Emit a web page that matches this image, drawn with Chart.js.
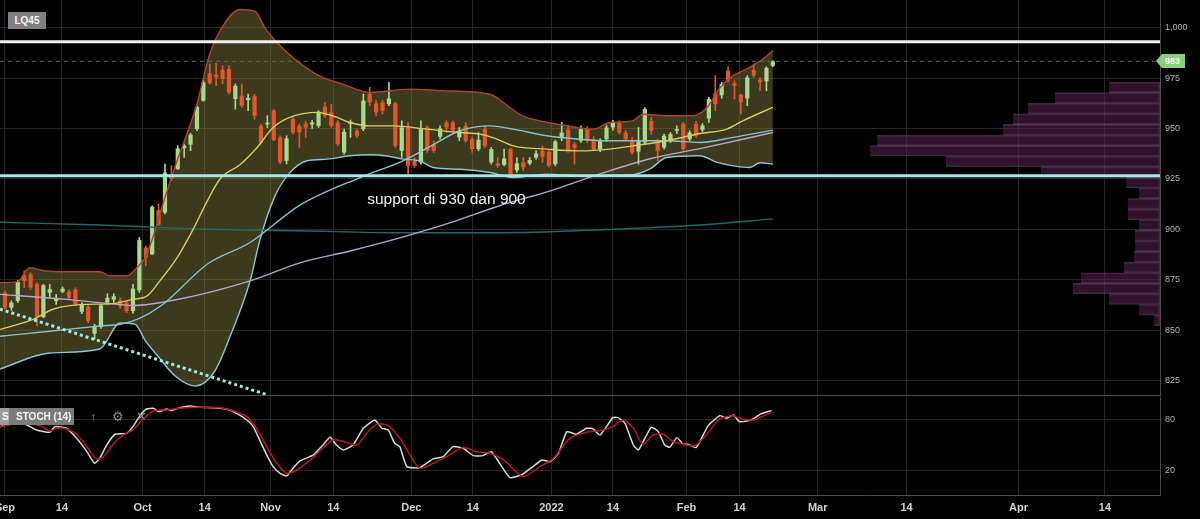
<!DOCTYPE html>
<html>
<head>
<meta charset="utf-8">
<title>LQ45 - support di 930 dan 900</title>
<script src="https://cdn.jsdelivr.net/npm/chart.js@4.4.1/dist/chart.umd.min.js"></script>
<style>
  html, body { margin: 0; padding: 0; background: #000; }
  #wrap { position: relative; width: 1200px; height: 519px; overflow: hidden; font-family: "Liberation Sans", Arial, sans-serif; }
  #wrap canvas { position: absolute; left: 0; }
  .tag { position: absolute; height: 17px; line-height: 17px; color: #f4f4f4; font-size: 10px; font-weight: bold; box-sizing: border-box; white-space: nowrap; }
  .ico { position: absolute; top: 408px; height: 17px; line-height: 17px; color: #8c8c8c; font-size: 13px; }
</style>
</head>
<body>
<div id="wrap">
  <canvas id="priceChart" width="1200" height="396" style="top:0"></canvas>
  <canvas id="stochChart" width="1200" height="123" style="top:396px"></canvas>

  <div class="tag" style="left:8px;top:12px;width:38px;background:#7f7f7f;text-align:center">LQ45</div>
  <div class="tag" style="left:0;top:408px;width:12px;background:#9a9a9a;padding-left:2px">S</div>
  <div class="tag" style="left:9px;top:408px;width:65px;background:#7b7b7b;padding-left:7px">STOCH (14)</div>
  <div class="ico" style="left:90px">&#8593;</div>
  <div class="ico" style="left:112px">&#9881;</div>
  <div class="ico" style="left:136px">&#10005;</div>
</div>

<script>
// ---------- values (x = trading-day index, 0 = 1 Sep 2021) ----------
const open = [
  868.6, 861.2, 864.5, 877.4, 877.7, 872.8, 856.5, 868.6, 864.5, 869.1,
  869.1, 870.3, 859.2, 861.5, 848.3, 851.6, 863.7, 865.2, 864.8, 863.7,
  859.5, 869.8, 891.0, 887.7, 909.5, 908.4, 927.4, 929.9, 940.3, 942.0,
  949.7, 963.8, 977.4, 976.7, 979.2, 979.5, 964.6, 966.3, 964.1, 966.2,
  951.3, 952.0, 958.8, 945.6, 934.0, 954.7, 951.3, 952.5, 952.0, 951.3,
  960.8, 958.0, 953.0, 938.1, 952.2, 948.9, 949.7, 967.1, 962.4, 962.9,
  962.1, 962.4, 938.9, 950.5, 934.0, 933.2, 950.5, 942.2, 945.9, 953.0,
  953.0, 945.6, 951.3, 944.7, 939.8, 949.7, 933.2, 932.7, 932.0, 939.8,
  929.3, 933.2, 932.7, 935.6, 938.9, 938.5, 932.3, 945.2, 949.4, 942.2,
  943.9, 949.7, 944.7, 939.8, 944.7, 950.5, 953.0, 948.0, 944.2, 938.6,
  943.1, 953.8, 943.9, 940.6, 943.9, 948.9, 952.2, 944.7, 952.2, 949.3,
  955.0, 967.5, 966.5, 978.7, 972.4, 966.6, 964.9, 979.0, 974.2, 973.4,
  981.1
];
const high = [
  869.5, 864.5, 874.7, 879.4, 878.5, 873.6, 872.8, 872.8, 867.8, 871.4,
  870.0, 871.1, 863.7, 862.8, 853.0, 862.8, 868.1, 868.1, 866.1, 864.5,
  872.8, 896.0, 891.8, 911.7, 912.5, 932.4, 931.5, 941.5, 942.3, 947.6,
  961.3, 973.7, 982.0, 982.3, 981.2, 981.2, 972.1, 972.0, 967.1, 967.1,
  952.2, 956.3, 959.6, 946.4, 946.4, 955.8, 952.2, 953.8, 954.0, 958.8,
  962.9, 962.1, 953.8, 949.7, 954.2, 949.7, 967.1, 970.4, 963.8, 964.1,
  972.9, 962.9, 953.8, 953.0, 935.6, 953.8, 951.3, 943.9, 951.3, 953.8,
  953.8, 950.5, 953.0, 945.9, 948.0, 951.3, 940.6, 935.6, 939.8, 940.3,
  935.6, 935.6, 935.6, 938.9, 941.4, 938.9, 944.2, 953.0, 951.3, 943.1,
  951.3, 951.0, 946.0, 945.0, 951.5, 954.0, 953.8, 949.0, 945.6, 950.5,
  960.4, 955.5, 944.7, 947.2, 948.0, 951.3, 953.0, 948.9, 953.5, 952.5,
  965.4, 976.2, 972.9, 980.6, 973.7, 967.1, 976.2, 982.0, 975.3, 980.6,
  983.6
];
const low = [
  860.5, 859.9, 863.7, 871.1, 870.3, 852.1, 856.2, 866.1, 862.8, 868.6,
  865.5, 862.0, 858.2, 853.7, 845.5, 850.9, 862.8, 863.7, 860.9, 858.7,
  858.5, 868.7, 882.0, 887.4, 901.8, 907.6, 924.1, 929.6, 935.7, 939.0,
  948.9, 963.5, 972.0, 971.2, 972.1, 967.1, 959.6, 960.5, 958.8, 954.6,
  942.2, 950.5, 943.9, 932.4, 932.4, 947.2, 940.6, 945.6, 950.0, 950.5,
  955.5, 950.5, 941.4, 937.3, 945.6, 945.6, 948.9, 961.3, 956.3, 957.1,
  961.3, 940.6, 935.6, 927.4, 930.7, 932.3, 938.1, 938.1, 944.7, 948.0,
  948.0, 943.9, 943.1, 938.1, 938.9, 940.6, 932.3, 930.7, 931.5, 925.7,
  928.2, 929.0, 932.0, 934.8, 933.2, 930.7, 931.5, 943.9, 938.1, 932.3,
  943.1, 943.0, 939.0, 938.5, 943.5, 949.0, 947.2, 943.9, 937.3, 932.3,
  942.2, 947.2, 934.0, 939.8, 943.0, 947.5, 938.9, 943.9, 945.6, 948.5,
  953.0, 958.8, 965.0, 972.9, 964.6, 957.1, 961.3, 975.3, 968.7, 968.7,
  980.6
];
const close = [
  861.2, 863.7, 873.9, 874.4, 871.1, 856.2, 872.3, 870.3, 866.1, 870.6,
  866.1, 862.8, 862.8, 854.6, 851.6, 862.3, 866.1, 866.8, 862.0, 859.5,
  870.6, 894.7, 886.0, 911.2, 902.3, 928.2, 924.9, 940.1, 941.5, 946.9,
  960.8, 972.9, 972.4, 975.4, 974.5, 967.9, 971.2, 961.3, 965.1, 956.3,
  943.1, 952.9, 944.2, 933.2, 945.1, 948.0, 948.0, 950.5, 953.0, 958.3,
  956.3, 951.3, 942.2, 948.4, 953.3, 946.4, 963.8, 962.9, 958.0, 958.8,
  964.9, 941.4, 950.5, 931.5, 931.5, 949.7, 938.9, 938.9, 950.0, 950.5,
  948.9, 948.9, 943.9, 939.8, 944.4, 941.4, 939.8, 931.5, 935.1, 926.5,
  932.7, 930.7, 934.4, 937.6, 936.0, 931.5, 943.6, 948.0, 938.9, 940.3,
  949.7, 943.9, 939.8, 943.9, 950.5, 953.0, 948.0, 944.7, 938.1, 943.9,
  959.6, 948.9, 938.9, 946.4, 947.2, 949.7, 939.8, 948.0, 946.4, 951.5,
  964.6, 962.1, 972.0, 973.7, 971.2, 963.0, 975.3, 976.2, 972.9, 980.0,
  983.3
];

// indicator lines, [index, value]
const bbUpper = [[-0.8,873.6],[1.9,874],[3.9,881],[6.3,879.4],[9.7,879],[14.8,879],[16.4,877],[19.1,877],[20.6,881],[21.9,886],[23.1,896],[25,915.8],[26.9,934],[28.4,947],[30,962],[30.9,973.7],[32,987],[33.9,1000],[36.7,1009],[39.1,1008],[40.6,1000],[43,991],[45.6,983.6],[49.2,976],[52.8,972],[57,967.9],[63.3,969.5],[68.4,968.7],[75.8,967],[78.9,960.4],[80.9,956.3],[83.6,953.8],[86.3,952.2],[89.4,950.5],[91.9,949.7],[94.5,953],[98.1,953.8],[99.7,957.1],[103.4,956.3],[107.5,956.3],[109.7,960.4],[111.7,970],[113.8,976.2],[116.4,980.3],[119.1,986.1],[120,988.6]];
const bbLower = [[-0.8,830.8],[7,838.7],[14.8,840.7],[18,853.6],[20.3,853],[21.9,845],[24.2,836],[26.6,827.3],[29.7,822.3],[32.8,829.8],[35.2,847.1],[38.3,874.4],[39.8,894.3],[42.2,916.6],[44.5,928],[47.2,934],[50.3,934.8],[53.9,936.5],[57,937],[59.7,936.4],[62.2,934.8],[64.8,934],[66.9,930.7],[71.1,929.8],[75.8,928.2],[79.4,925.7],[84.7,927.4],[89.8,926.6],[97.7,927],[100.8,930],[103.4,935.6],[108.6,936.5],[111.3,933.2],[113.8,931.5],[116.4,930.7],[118,933],[120,932.3]];
const ma20 = [[-0.8,850.4],[4.4,855.4],[7.5,860.4],[12.2,862.8],[16.9,863.2],[20,865.3],[22.2,867],[24.2,874.5],[26.9,886],[29.4,900],[31.6,914],[33.6,925],[36.7,932],[39.4,940.6],[41.9,950.5],[44.5,955.5],[48.8,958],[51.9,955.5],[53.9,953],[57,951.3],[60.6,951.3],[65.9,949.7],[71.1,948],[74.2,947.2],[76.9,944.7],[79.4,941.4],[84.7,939.8],[89.8,938.9],[94.5,939.8],[98.1,941.4],[103.4,943.9],[108.6,947.5],[112.8,949.7],[115.3,953.8],[120,960.5]];
const ma50 = [[-0.8,847],[7,849.5],[14.8,852.1],[18,853],[21.1,856],[24.7,862.9],[31.6,882.7],[38.3,893.5],[46.1,912],[55.5,925.7],[62.2,934],[66.4,941],[71.1,948.9],[75.8,951.3],[79.4,949.7],[84.7,946.4],[89.8,944.7],[94.5,943.9],[103.4,943.9],[108.6,943.1],[113.8,945.6],[120,949.2]];
const ma100 = [[-0.8,867.8],[9.7,865.3],[14.8,863.7],[20,862.3],[27.3,865.5],[38.3,874.5],[46.1,883.4],[53.9,889.3],[61.7,895.8],[69.5,903.2],[77.3,911.7],[85.2,919.1],[93,927.5],[100.8,935],[108.6,940],[120,948]];
const ma200 = [[-0.8,903.5],[14.8,902.2],[30.5,900.2],[46.1,899.3],[61.7,898.3],[77.3,898.3],[93,899.8],[108.6,902.2],[120,905.2]];
const trendLine = [[-0.8,860.5],[41.1,817.9]];

const resistance = 993;
const support = 926.6;
const note = 'support di 930 dan 900';
const noteAt = [56.6, 914.6];

// volume profile: bin centre price, bar length
const volPrice = [981.3, 975.0, 968.7, 962.4, 956.1, 949.8, 943.5, 937.2, 930.9, 924.6, 918.3, 912.0, 905.7, 899.4, 893.1, 886.8, 880.5, 874.2, 867.9, 861.6, 855.3, 849.0, 842.7];
const volSize  = [51, 105, 132, 147, 157, 283, 290, 214, 119, 34, 21, 32, 32, 21, 25, 25, 26, 36, 79, 87, 51, 21, 6];

const stochK = [[-0.8,72],[2.3,78],[4.95,68.2],[7,65.4],[7.8,72.1],[9.6,70.2],[11.2,58.3],[12.8,42.5],[14,28.7],[14.8,34.6],[15.9,50.4],[17.2,63.1],[19,64.2],[20,72.1],[21.1,85.1],[22.1,93],[23.2,93.8],[24,89.9],[25.3,93],[26,91.1],[27.3,94.6],[28.9,96.6],[30.5,95],[32.5,94.6],[34.6,93],[36.2,87.9],[37.8,80],[38.8,72.1],[39.8,56.3],[40.9,38.6],[41.9,24.8],[43,16.9],[44,13.7],[45,22.8],[46.1,31.5],[48.2,38.6],[49.7,50.4],[50.8,59.5],[51.8,50.4],[52.9,44.5],[54.4,50.4],[56,70.2],[57.8,80],[58.9,70.2],[59.9,68.2],[60.9,52.4],[61.7,48.5],[62.8,24.8],[64.8,23.6],[66.9,33.9],[68.5,36.6],[70,48.5],[71.6,46.5],[73.2,37.8],[74.7,37.8],[76,42.5],[77.3,28.7],[78.9,11.8],[80.7,14.9],[82.5,24.8],[83.9,32.7],[85.2,30.7],[86.5,40.6],[87.8,66.2],[89.3,63.1],[90.9,70.2],[91.9,69.4],[93,62.3],[95,82.8],[95.8,82.8],[96.9,76.1],[98.2,50.4],[99,44.5],[100,58.3],[101,71.3],[102.1,66.2],[103.1,50.4],[103.9,47.7],[105,59.1],[106,51.2],[106.8,51.2],[108,47.3],[109.9,73.3],[111.7,85.1],[112.8,82],[113.8,86],[114.8,78],[115.9,78.8],[116.9,81.2],[118,86.7],[119.8,91.1]];
const stochD = [[-0.8,72.1],[2.3,76],[5.5,73.3],[7,67],[8.1,70.2],[9.6,69.4],[11.2,63.1],[12.8,48.5],[14.3,33.9],[15.4,36.6],[16.9,51.2],[18.5,62.3],[20,68.2],[21.6,81.2],[23.2,90.7],[25.3,91.9],[27.3,93.8],[30.5,95],[33.6,94.6],[35.7,90.7],[37.8,84],[39.3,70.2],[40.9,48.5],[42.5,28.7],[44,16.9],[45.6,20.8],[47.7,32.7],[49.7,46.5],[51.3,56.3],[52.9,54.4],[55,50.4],[56.5,64.2],[58.1,74.9],[59.9,73.3],[61.7,58.3],[63.3,38.6],[64.8,22.8],[66.9,28.7],[69.5,38.6],[71.6,47.3],[73.7,42.5],[75.8,40.6],[77.9,32.7],[81,13],[83.6,24.8],[85.7,34.6],[88.3,58.3],[90.9,65.4],[93.5,68.2],[95,72.1],[96.6,80],[98.2,70.2],[99.7,51.2],[101.3,62.3],[102.9,63.1],[104.4,54.4],[106,51.2],[107.8,49.6],[109.6,62.3],[111.7,81.2],[113.8,85.1],[114.8,82],[116.9,80],[119.8,89.1]];

const tickPos    = [0, 8.9, 21.5, 31.2, 41.5, 51.3, 63.5, 73.1, 85.4, 95.0, 106.5, 114.8, 127.0, 140.9, 158.4, 171.9];
const tickLabels = ['Sep', '14', 'Oct', '14', 'Nov', '14', 'Dec', '14', '2022', '14', 'Feb', '14', 'Mar', '14', 'Apr', '14'];
const priceTicks = [825, 850, 875, 900, 925, 950, 975, 1000];
const stochTicks = [20, 80];

// ---------- chart setup ----------
const FONT = '"Liberation Sans", Arial, sans-serif';
const GRID = '#262626';
const EDGE = '#4d4d4d';
const X_MIN = -0.78, X_MAX = 180.5;
const P_MIN = 817.9, P_MAX = 1013.7;
const lastClose = close[close.length - 1];

Chart.defaults.font.family = FONT;
Chart.defaults.animation = false;

const xy = arr => arr.map(([x, y]) => ({ x, y }));
const across = v => [{ x: X_MIN, y: v }, { x: X_MAX, y: v }];
const lineDs = (label, data, color, width, extra) => Object.assign({
  type: 'line', label, data, borderColor: color, borderWidth: width,
  pointRadius: 0, pointHoverRadius: 0, fill: false, cubicInterpolationMode: 'monotone', xAxisID: 'x', yAxisID: 'y'
}, extra || {});

const rightAxis = (min, max, ticks, fmt) => ({
  type: 'linear', position: 'right', min, max,
  afterBuildTicks: s => { s.ticks = ticks.map(v => ({ value: v })); },
  afterFit: s => { s.width = 40; s.paddingTop = 0; s.paddingBottom = 0; },
  grid: { color: GRID, drawTicks: false },
  border: { color: EDGE },
  ticks: { color: '#b3b3b3', font: { size: 9 }, padding: 5, callback: fmt }
});

const idx = close.map((_, i) => i);
const candleColor = idx.map(i => close[i] >= open[i] ? '#a9d98c' : '#e3562b');

const overlay = {
  id: 'overlay',
  afterDatasetsDraw(chart) {
    const { ctx, scales: { x, y } } = chart;
    ctx.save();
    ctx.font = '15.5px ' + FONT;
    ctx.fillStyle = '#f2f2f2';
    ctx.textBaseline = 'middle';
    ctx.fillText(note, x.getPixelForValue(noteAt[0]), y.getPixelForValue(noteAt[1]));
    ctx.restore();
  },
  afterDraw(chart) {
    const { ctx, scales: { y }, chartArea } = chart;
    const py = Math.round(y.getPixelForValue(lastClose));
    const x0 = chartArea.right - 4;
    ctx.save();
    ctx.fillStyle = '#8ccf7c';
    ctx.beginPath();
    ctx.moveTo(x0, py);
    ctx.lineTo(x0 + 6, py - 7);
    ctx.lineTo(x0 + 29, py - 7);
    ctx.lineTo(x0 + 29, py + 7);
    ctx.lineTo(x0 + 6, py + 7);
    ctx.closePath();
    ctx.fill();
    ctx.fillStyle = '#f6fff2';
    ctx.font = 'bold 9px ' + FONT;
    ctx.textBaseline = 'middle';
    ctx.fillText(String(Math.round(lastClose)), x0 + 9, py + 0.5);
    ctx.restore();
  }
};

new Chart(document.getElementById('priceChart'), {
  type: 'line',
  data: {
    datasets: [
      lineDs('resistance', across(resistance), '#f2f2f2', 3, { order: 0, cubicInterpolationMode: 'default' }),
      lineDs('support', across(support), '#a6e8e6', 3, { order: 0, cubicInterpolationMode: 'default' }),
      lineDs('last', across(lastClose), '#5f6d5f', 1, { order: 0, borderDash: [4, 4], cubicInterpolationMode: 'default' }),
      lineDs('trend', xy(trendLine), '#a6e8e6', 3, { order: 0, borderDash: [3, 3], cubicInterpolationMode: 'default' }),
      {
        type: 'bar', label: 'body', order: 2, grouped: false,
        data: idx.map(i => ({ x: i, y: [open[i], close[i]] })),
        backgroundColor: candleColor, barPercentage: 0.66, categoryPercentage: 1, minBarLength: 1
      },
      {
        type: 'bar', label: 'wick', order: 3, grouped: false,
        data: idx.map(i => ({ x: i, y: [low[i], high[i]] })),
        backgroundColor: candleColor, barThickness: 1
      },
      lineDs('MA20', xy(ma20), '#d7cc66', 1.4, { order: 1 }),
      lineDs('MA50', xy(ma50), '#86c3d2', 1.4, { order: 1 }),
      lineDs('MA100', xy(ma100), '#b9a4cb', 1.4, { order: 1 }),
      lineDs('MA200', xy(ma200), '#1d6a6a', 1.4, { order: 1 }),
      lineDs('BB upper', xy(bbUpper), '#b4432f', 1.4, { order: 1 }),
      lineDs('BB lower', xy(bbLower), '#8cc7d6', 1.4, { order: 1, fill: '-1', backgroundColor: 'rgba(120,114,56,0.5)' }),
      {
        type: 'bar', label: 'volume profile', order: 9, grouped: false, indexAxis: 'y',
        xAxisID: 'xv', yAxisID: 'yv',
        data: volPrice.map((p, k) => ({ x: volSize[k], y: p })),
        backgroundColor: 'rgba(90,32,82,0.55)', borderColor: 'rgba(125,100,125,0.45)', borderWidth: 1,
        borderSkipped: 'right', barPercentage: 1, categoryPercentage: 1
      }
    ]
  },
  options: {
    responsive: false, maintainAspectRatio: false, devicePixelRatio: 1,
    layout: { padding: { bottom: 1 }, autoPadding: false },
    plugins: { legend: { display: false }, tooltip: { enabled: false }, filler: { drawTime: 'beforeDatasetsDraw' } },
    scales: {
      x: {
        type: 'linear', min: X_MIN, max: X_MAX, offset: false,
        afterBuildTicks: s => { s.ticks = tickPos.map(v => ({ value: v })); },
        afterFit: s => { s.height = 0; s.paddingLeft = 0; s.paddingRight = 0; },
        ticks: { display: false },
        grid: { color: GRID, drawTicks: false, offset: false },
        border: { color: EDGE }
      },
      y: rightAxis(P_MIN, P_MAX, priceTicks, v => v.toLocaleString('en-US')),
      xv: { type: 'linear', axis: 'x', display: false, reverse: true, min: 0, max: 1160 },
      yv: { type: 'linear', axis: 'y', display: false, min: P_MIN, max: P_MAX }
    }
  },
  plugins: [overlay]
});

new Chart(document.getElementById('stochChart'), {
  type: 'line',
  data: {
    datasets: [
      { label: '%D', data: xy(stochD), borderColor: '#b81820', borderWidth: 1.5, pointRadius: 0, pointHoverRadius: 0, tension: 0.25, order: 0 },
      { label: '%K', data: xy(stochK), borderColor: '#d9d9d9', borderWidth: 1.5, pointRadius: 0, pointHoverRadius: 0, tension: 0.15, order: 1 }
    ]
  },
  options: {
    responsive: false, maintainAspectRatio: false, devicePixelRatio: 1,
    layout: { padding: { top: 1 }, autoPadding: false },
    plugins: { legend: { display: false }, tooltip: { enabled: false } },
    scales: {
      x: {
        type: 'linear', min: X_MIN, max: X_MAX, offset: false,
        afterBuildTicks: s => { s.ticks = tickPos.map(v => ({ value: v })); },
        afterFit: s => { s.height = 24; s.paddingLeft = 0; s.paddingRight = 0; },
        ticks: {
          autoSkip: false, maxRotation: 0, padding: 6, color: '#d2d2d2',
          font: { size: 11, weight: 'bold' },
          callback: (v, k) => tickLabels[k]
        },
        grid: { color: GRID, drawTicks: false, offset: false },
        border: { color: EDGE }
      },
      y: rightAxis(-8.8, 107.2, stochTicks, v => String(v))
    }
  }
});
</script>
</body>
</html>
